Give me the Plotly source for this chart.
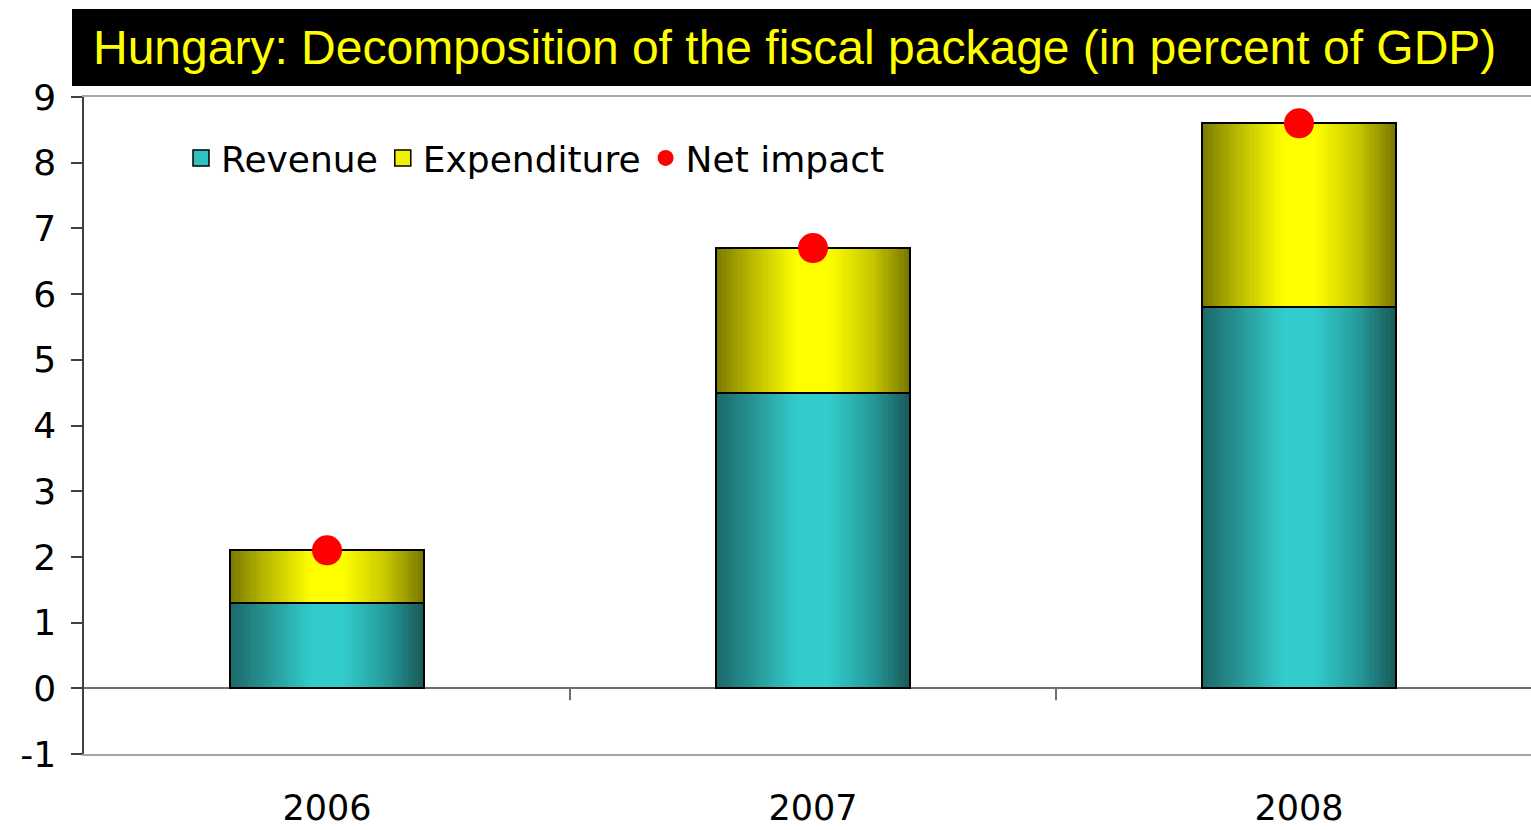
import plotly.graph_objects as go

# Fiscal package components, percent of GDP
years = ["2006", "2007", "2008"]
revenue = [1.3, 4.5, 5.8]
expenditure = [0.8, 2.2, 2.8]
net_impact = [2.1, 6.7, 8.6]
y_ticks = [-1, 0, 1, 2, 3, 4, 5, 6, 7, 8, 9]
y_tick_text = [str(v) for v in y_ticks]

TITLE = "Hungary: Decomposition of the fiscal package (in percent of GDP)"

W, H = 1531, 830
ML, MR, MT, MB = 84, 0, 97, 76
PLOT_W = W - ML - MR
PLOT_H = H - MT - MB
CAT_PX = 486  # pixel width of one category slot

x_pos = list(range(len(years)))
BAR_W = 0.4
SLICES = 60

TEAL_STOPS = [(0.0, (27, 104, 104)), (0.2, (40, 150, 150)), (0.42, (51, 204, 204)),
              (0.58, (51, 204, 204)), (0.8, (38, 155, 155)), (1.0, (25, 88, 88))]
YELLOW_STOPS = [(0.0, (122, 122, 0)), (0.2, (190, 190, 0)), (0.42, (255, 255, 0)),
                (0.58, (255, 255, 0)), (0.8, (200, 200, 0)), (1.0, (118, 118, 0))]


def shade(stops, t):
    for (t0, c0), (t1, c1) in zip(stops[:-1], stops[1:]):
        if t0 <= t <= t1:
            f = 0 if t1 == t0 else (t - t0) / (t1 - t0)
            r, g, b = (round(a + (bb - a) * f) for a, bb in zip(c0, c1))
            return f"rgb({r},{g},{b})"
    r, g, b = stops[-1][1]
    return f"rgb({r},{g},{b})"


fig = go.Figure()

# Horizontal shading of each bar segment, built from narrow overlaid slices
for i in range(SLICES):
    t = (i + 0.5) / SLICES
    off = -BAR_W / 2 + i * BAR_W / SLICES
    wid = BAR_W - i * BAR_W / SLICES
    fig.add_bar(x=x_pos, y=revenue, offset=off, width=wid,
                marker=dict(color=shade(TEAL_STOPS, t), line=dict(width=0)),
                showlegend=False, hoverinfo="skip")
    fig.add_bar(x=x_pos, y=expenditure, base=revenue, offset=off, width=wid,
                marker=dict(color=shade(YELLOW_STOPS, t), line=dict(width=0)),
                showlegend=False, hoverinfo="skip")

# Segment outlines
fig.add_bar(x=x_pos, y=revenue, width=BAR_W, name="Revenue",
            marker=dict(color="rgba(0,0,0,0)", line=dict(color="black", width=2)),
            showlegend=False)
fig.add_bar(x=x_pos, y=expenditure, base=revenue, width=BAR_W, name="Expenditure",
            marker=dict(color="rgba(0,0,0,0)", line=dict(color="black", width=2)),
            showlegend=False)

# Legend entries
fig.add_scatter(x=[None], y=[None], mode="markers", name="Revenue", legendrank=1,
                marker=dict(symbol="square", size=16, color="#2FC0C0",
                            line=dict(color="black", width=1.5)))
fig.add_scatter(x=[None], y=[None], mode="markers", name="Expenditure", legendrank=2,
                marker=dict(symbol="square", size=16, color="#F0F000",
                            line=dict(color="black", width=1.5)))

fig.add_scatter(x=x_pos, y=net_impact, mode="markers", name="Net impact", legendrank=3,
                marker=dict(symbol="circle", size=30, color="#FF0000", line=dict(width=0)))

# Short ticks on the zero line between categories
for b in [i + 0.5 for i in range(len(years) - 1)]:
    fig.add_shape(type="line", xref="x", yref="y", x0=b, x1=b,
                  ysizemode="pixel", yanchor=0, y0=0, y1=-12,
                  line=dict(color="#6E6E6E", width=2))

# Title banner
fig.add_shape(type="rect", xref="paper", yref="paper",
              x0=(72 - ML) / PLOT_W, x1=1.01,
              y0=(H - MB - 86) / PLOT_H, y1=(H - MB - 9) / PLOT_H,
              fillcolor="black", line=dict(width=0), layer="below")
fig.add_annotation(text=TITLE, xref="paper", yref="paper",
                   x=(794 - ML) / PLOT_W, y=(H - MB - 48) / PLOT_H,
                   xanchor="center", yanchor="middle", showarrow=False,
                   font=dict(family="Liberation Sans, Arial", size=48, color="#FFFF00"))

fig.update_layout(
    width=W, height=H,
    margin=dict(l=ML, r=MR, t=MT, b=MB, pad=0, autoexpand=False),
    paper_bgcolor="white", plot_bgcolor="white",
    barmode="overlay",
    bargap=0,
    showlegend=True,
    legend=dict(orientation="h", x=(181 - ML) / PLOT_W, y=(H - MB - 158) / PLOT_H,
                xanchor="left", yanchor="middle",
                font=dict(family="DejaVu Sans", size=36, color="black"),
                bgcolor="rgba(0,0,0,0)", itemwidth=30, traceorder="normal"),
    xaxis=dict(range=[-0.5, -0.5 + PLOT_W / CAT_PX], tickvals=x_pos, ticktext=years,
               showline=True, linecolor="#A6A6A6", linewidth=2, mirror=True,
               ticks="", showgrid=False, zeroline=False, ticklabelstandoff=22,
               automargin=False,
               tickfont=dict(family="DejaVu Sans", size=35, color="black")),
    yaxis=dict(range=[-1, 9], tickvals=y_ticks, ticktext=y_tick_text, showline=True,
               linecolor="#404040", linewidth=1.5, ticks="outside", ticklen=11,
               tickcolor="#404040", tickwidth=1.5, showgrid=False, zeroline=True,
               zerolinecolor="#6E6E6E", zerolinewidth=2, ticklabelstandoff=8,
               automargin=False,
               tickfont=dict(family="DejaVu Sans", size=36, color="black")),
)

fig.write_html("out.html")
